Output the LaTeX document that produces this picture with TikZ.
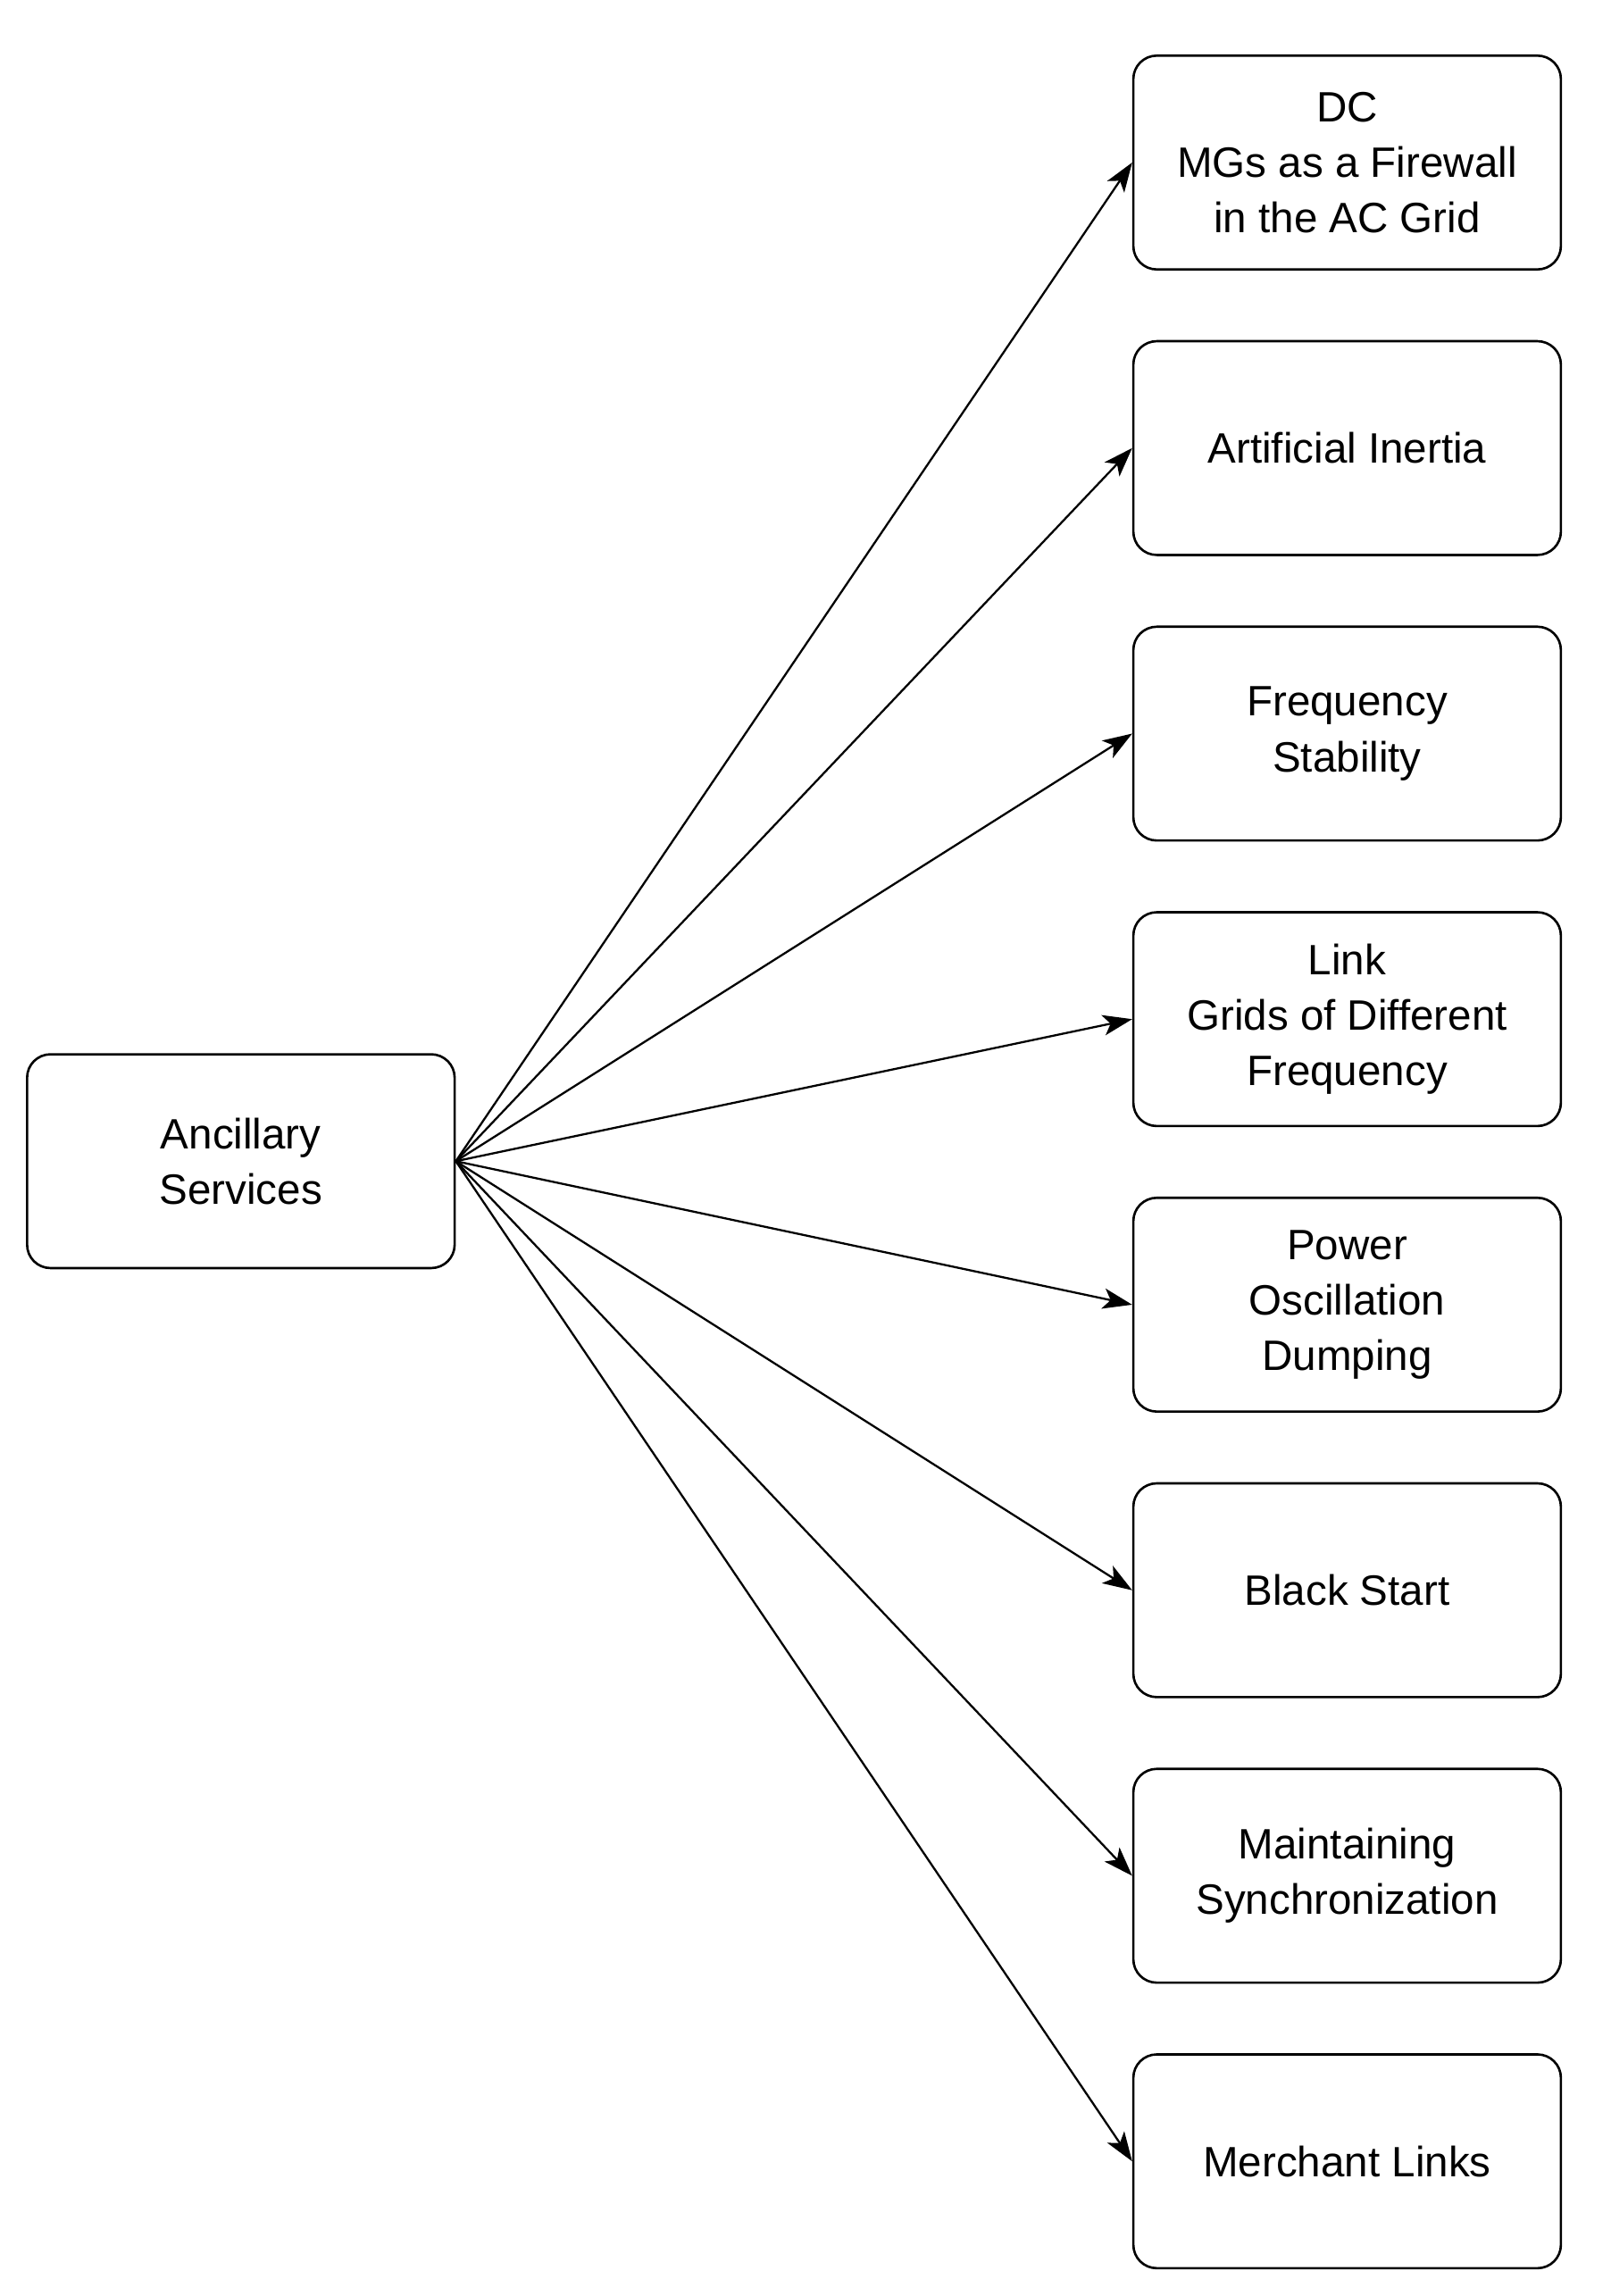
\documentclass[tikz,border=0pt]{standalone}
\usepackage{fontspec}
\setmainfont{Liberation Sans}
\usetikzlibrary{arrows.meta}
\begin{document}
\begin{tikzpicture}[x=1pt,y=-1pt,
  box/.style={draw,line width=1.6pt,rounded corners=16pt,minimum width=292pt,minimum height=146pt,align=center,inner sep=2pt,
    font=\fontsize{29}{38}\selectfont},
  arr/.style={line width=1.4pt,-{Stealth[length=20pt,width=14pt,inset=5pt]}}]
\useasboundingbox (0,0) rectangle (1100,1568);
\node[box] (src) at (164.5,793) {Ancillary\\Services};
\node[box] (a) at (920,111) {DC\\MGs as a Firewall\\in the AC Grid};
\node[box] (b) at (920,306) {Artificial Inertia};
\node[box] (c) at (920,501) {Frequency\\Stability};
\node[box] (d) at (920,696) {Link\\Grids of Different\\Frequency};
\node[box] (e) at (920,891) {Power\\Oscillation\\Dumping};
\node[box] (f) at (920,1086) {Black Start};
\node[box] (g) at (920,1281) {Maintaining\\Synchronization};
\node[box] (h) at (920,1476) {Merchant Links};
\foreach \t in {a,b,c,d,e,f,g,h} \draw[arr] (src.east) -- (\t.west);
\end{tikzpicture}
\end{document}
